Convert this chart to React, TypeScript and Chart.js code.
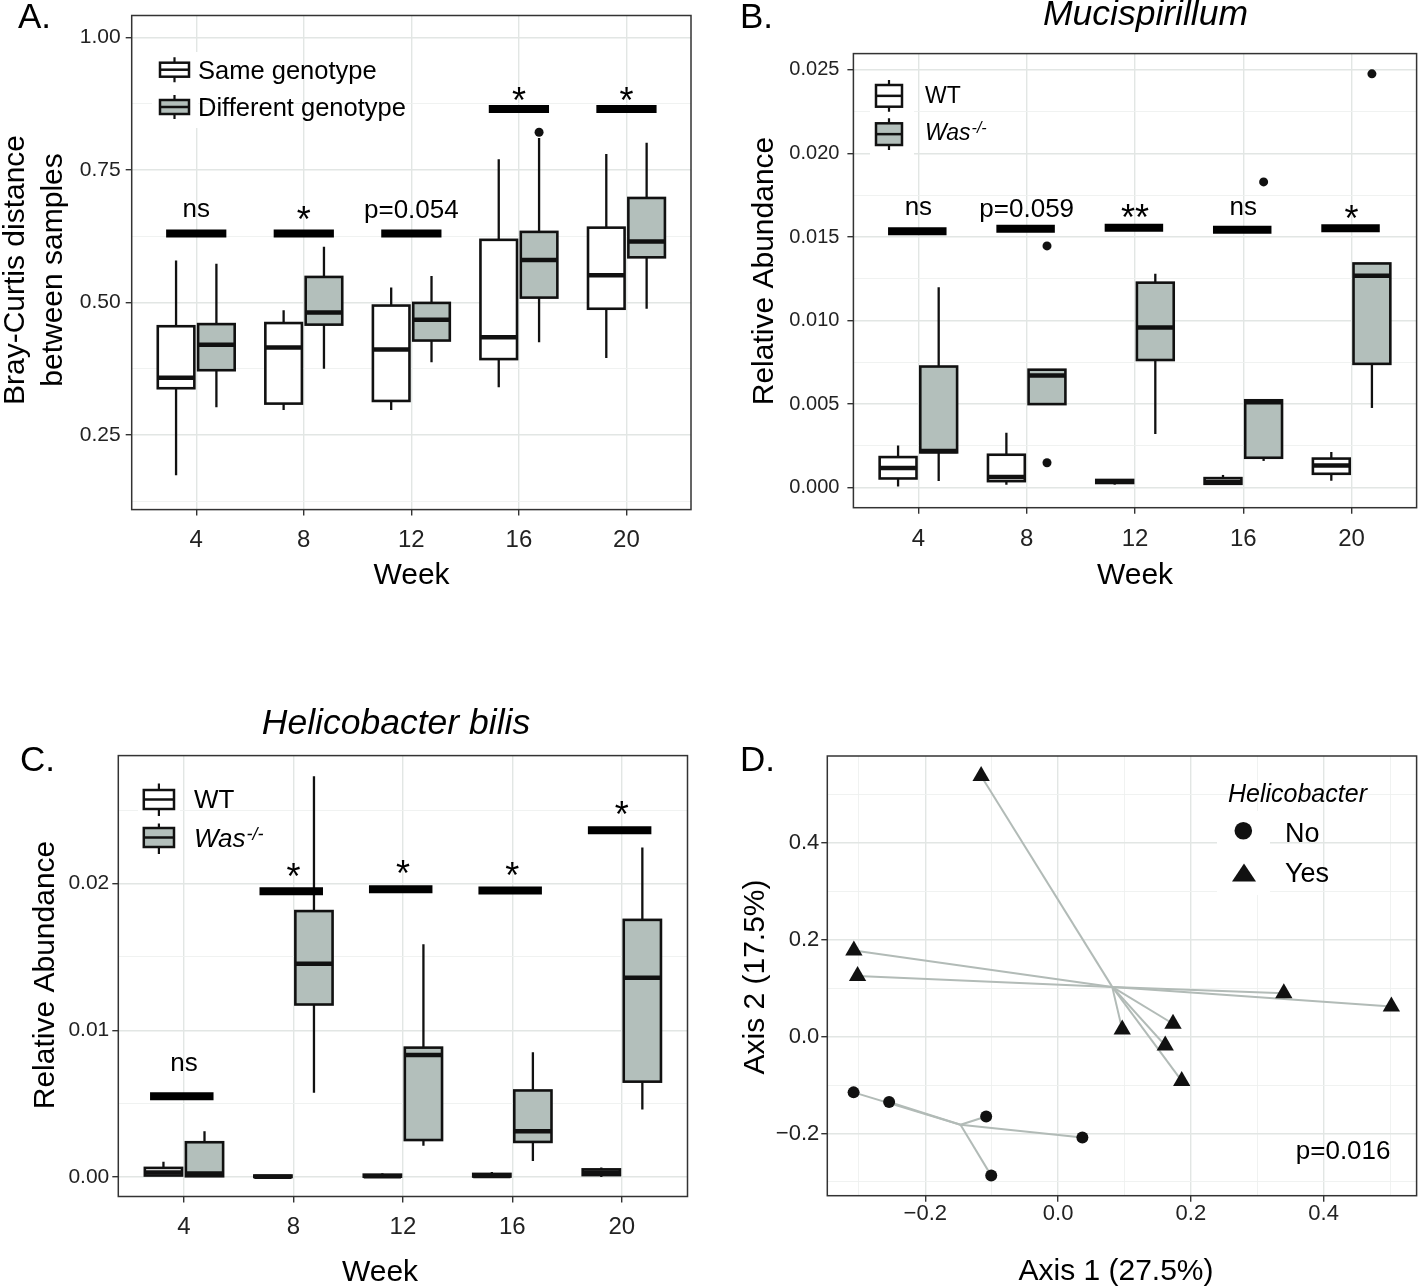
import React, { useEffect, useRef } from 'react';
import { Chart, registerables } from 'chart.js';

Chart.register(...registerables);

const FONT = "'Liberation Sans', Arial, Helvetica, sans-serif";
Chart.defaults.font.family = FONT;

const PAGE_W = 1418;
const PAGE_H = 1288;

// ---------------- shared categories ----------------
const WEEKS = ['4', '8', '12', '16', '20'];
const WEEK_POS = [1, 2, 3, 4, 5];

// box statistics: [lower whisker, Q1, median, Q3, upper whisker]

// ---------------- Panel A ----------------
const A_SAME = [
  [0.174, 0.338, 0.358, 0.455, 0.579],
  [0.297, 0.309, 0.415, 0.461, 0.485],
  [0.297, 0.314, 0.411, 0.494, 0.528],
  [0.340, 0.393, 0.434, 0.618, 0.770],
  [0.395, 0.488, 0.551, 0.641, 0.780],
];
const A_DIFF = [
  [0.302, 0.372, 0.420, 0.459, 0.573],
  [0.375, 0.458, 0.481, 0.548, 0.605],
  [0.387, 0.428, 0.467, 0.499, 0.550],
  [0.425, 0.509, 0.580, 0.633, 0.810],
  [0.488, 0.585, 0.615, 0.697, 0.801],
];
const A_DIFF_OUT_WEEKS = ['16'];
const A_DIFF_OUT_VALUES = [0.821];
const A_SIG_TEXT = ['ns', '*', 'p=0.054', '*', '*'];
const A_SIG_BAR = [0.630, 0.630, 0.630, 0.865, 0.865];
const A_SIG_TEXT_AT = [0.673, 0.673, 0.677, 0.897, 0.897];
const A_Y_TICKS = [0.125, 0.25, 0.375, 0.5, 0.625, 0.75, 0.875, 1.0];
const A_Y_MAJOR = [0.25, 0.5, 0.75, 1.0];

// ---------------- Panel B ----------------
const B_WT = [
  [0.00007, 0.00055, 0.00117, 0.00183, 0.00252],
  [0.00018, 0.00039, 0.00064, 0.00197, 0.00328],
  [0.00018, 0.00028, 0.00037, 0.00046, 0.00046],
  [0.00023, 0.00023, 0.00034, 0.00057, 0.00076],
  [0.00041, 0.00083, 0.00133, 0.00174, 0.00213],
];
const B_WAS = [
  [0.0004, 0.00211, 0.0022, 0.00725, 0.0120],
  [0.0050, 0.0050, 0.00672, 0.00706, 0.00706],
  [0.00321, 0.00764, 0.00959, 0.01227, 0.0128],
  [0.0016, 0.00179, 0.00511, 0.00523, 0.00523],
  [0.00477, 0.00741, 0.01268, 0.01342, 0.01342],
];
const B_WAS_OUT_WEEKS = ['8', '8', '16', '20'];
const B_WAS_OUT_VALUES = [0.01447, 0.00149, 0.0183, 0.02477];
const B_SIG_TEXT = ['ns', 'p=0.059', '**', 'ns', '*'];
const B_SIG_BAR = [0.01534, 0.0155, 0.01555, 0.01544, 0.01553];
const B_SIG_TEXT_AT = [0.01675, 0.01675, 0.01669, 0.01675, 0.01662];
const B_Y_TICKS = [0, 0.0025, 0.005, 0.0075, 0.01, 0.0125, 0.015, 0.0175, 0.02, 0.0225, 0.025];
const B_Y_MAJOR = [0, 0.005, 0.01, 0.015, 0.02, 0.025];

// ---------------- Panel C ----------------
const C_WT = [
  [0.0001, 0.0001, 0.00031, 0.00062, 0.00104],
  [0, 0, 0.00002, 0.0001, 0.0001],
  [0, 0.00002, 0.00005, 0.00016, 0.00026],
  [0.00002, 0.00003, 0.00007, 0.00021, 0.00034],
  [0, 0.00013, 0.00031, 0.00052, 0.00065],
];
const C_WAS = [
  [0.00005, 0.00005, 0.00023, 0.00237, 0.00312],
  [0.00575, 0.01176, 0.01454, 0.01813, 0.02733],
  [0.00213, 0.00252, 0.00832, 0.00882, 0.01586],
  [0.00109, 0.00239, 0.00312, 0.0059, 0.0085],
  [0.0046, 0.0065, 0.01358, 0.01753, 0.02247],
];
const C_SIG_TEXT = ['ns', '*', '*', '*', '*'];
const C_SIG_BAR = [0.00551, 0.01948, 0.01961, 0.01953, 0.02364];
const C_SIG_TEXT_AT = [0.00768, 0.02107, 0.02124, 0.02115, 0.0253];
const C_Y_TICKS = [0, 0.005, 0.01, 0.015, 0.02, 0.025];
const C_Y_MAJOR = [0, 0.01, 0.02];

// ---------------- Panel D (PCoA) ----------------
const D_NO_X = [-0.308, -0.2545, -0.1083, 0.0366, -0.1007];
const D_NO_Y = [-0.115, -0.1348, -0.1648, -0.2081, -0.287];
const D_YES_X = [-0.1159, -0.3076, -0.302, 0.340, 0.502, 0.0966, 0.1731, 0.1614, 0.1862];
const D_YES_Y = [0.5385, 0.1782, 0.1253, 0.0899, 0.0623, 0.015, 0.0268, -0.0181, -0.0914];
const D_TICKS = [-0.3, -0.2, -0.1, 0, 0.1, 0.2, 0.3, 0.4, 0.5];
const D_MAJOR = [-0.2, 0, 0.2, 0.4];

// ---------------- styles ----------------
const MAJOR_GRID = '#e2e6e4';
const MINOR_GRID = '#eef0ef';
const BOX_GRAY = '#b3bfbb';
const SPIDER = '#b2bbb7';
const INK = '#111';
const BOX_OFFSET = 0.1875;
const BOX_HALF = 0.17;
const PANEL_LABEL = 35;
const TITLE_SIZE = 35.5;

type Area = { l: number; t: number; r: number; b: number };

const isIn = (list: number[], v: number) => list.some((m) => Math.abs(m - v) < 1e-9);

function layoutFor(a: Area, yw: number, xh: number) {
  return {
    autoPadding: false,
    padding: { left: a.l - yw, top: a.t, right: PAGE_W - a.r, bottom: PAGE_H - a.b - xh },
  };
}

function makeAxis(p: {
  min: number; max: number; ticks: number[]; major: number[]; fmt: (v: number) => string;
  font: number; pad: number; horizontal: boolean; size: number;
}) {
  return {
    type: 'linear',
    position: p.horizontal ? 'bottom' : 'left',
    min: p.min,
    max: p.max,
    afterBuildTicks: (s: any) => { s.ticks = p.ticks.map((v) => ({ value: v })); },
    afterFit: (s: any) => { if (p.horizontal) s.height = p.size; else s.width = p.size; },
    border: { display: false },
    grid: {
      drawTicks: true,
      tickLength: 6,
      tickWidth: 1.4,
      color: (c: any) => (isIn(p.major, c.tick ? c.tick.value : NaN) ? MAJOR_GRID : MINOR_GRID),
      lineWidth: (c: any) => (isIn(p.major, c.tick ? c.tick.value : NaN) ? 1.4 : 0.9),
      tickColor: (c: any) => (isIn(p.major, c.tick ? c.tick.value : NaN) ? '#333' : 'rgba(0,0,0,0)'),
    },
    ticks: {
      autoSkip: false, maxRotation: 0, minRotation: 0, padding: p.pad, color: '#222',
      font: { family: FONT, size: p.font, lineHeight: 1 },
      callback: (v: any) => (isIn(p.major, Number(v)) ? p.fmt(Number(v)) : ''),
    },
  };
}

// ---------------- drawing helpers ----------------
function txt(ctx: CanvasRenderingContext2D, s: string, x: number, y: number, size: number,
  align: CanvasTextAlign = 'left', italic = false) {
  ctx.save();
  ctx.font = `${italic ? 'italic ' : ''}${size}px ${FONT}`;
  ctx.fillStyle = '#000';
  ctx.textAlign = align;
  ctx.textBaseline = 'alphabetic';
  ctx.fillText(s, x, y);
  ctx.restore();
}

function vtxt(ctx: CanvasRenderingContext2D, s: string, baseX: number, cy: number, size: number) {
  ctx.save();
  ctx.translate(baseX, cy);
  ctx.rotate(-Math.PI / 2);
  ctx.font = `${size}px ${FONT}`;
  ctx.fillStyle = '#000';
  ctx.textAlign = 'center';
  ctx.textBaseline = 'alphabetic';
  ctx.fillText(s, 0, 0);
  ctx.restore();
}

function wasLabel(ctx: CanvasRenderingContext2D, x: number, base: number, size: number) {
  ctx.save();
  ctx.font = `italic ${size}px ${FONT}`;
  ctx.fillStyle = '#000';
  ctx.textBaseline = 'alphabetic';
  ctx.textAlign = 'left';
  ctx.fillText('Was', x, base);
  const w = ctx.measureText('Was').width;
  ctx.font = `italic ${Math.round(size * 0.68)}px ${FONT}`;
  ctx.fillText('-/-', x + w + 1, base - 7);
  ctx.restore();
}

function keyBg(ctx: CanvasRenderingContext2D, x: number, y: number, w: number, h: number) {
  ctx.save();
  ctx.fillStyle = '#fff';
  ctx.fillRect(x, y, w, h);
  ctx.restore();
}

function keyBox(ctx: CanvasRenderingContext2D, x0: number, x1: number, bt: number, bb: number,
  st: number, sb: number, fill: string) {
  const cx = (x0 + x1) / 2;
  const mid = (bt + bb) / 2;
  ctx.save();
  ctx.strokeStyle = INK;
  ctx.lineWidth = 2.2;
  ctx.beginPath();
  ctx.moveTo(cx, st); ctx.lineTo(cx, bt);
  ctx.moveTo(cx, bb); ctx.lineTo(cx, sb);
  ctx.stroke();
  ctx.fillStyle = fill;
  ctx.fillRect(x0, bt, x1 - x0, bb - bt);
  ctx.lineWidth = 2.5;
  ctx.strokeRect(x0, bt, x1 - x0, bb - bt);
  ctx.beginPath();
  ctx.moveTo(x0, mid); ctx.lineTo(x1, mid);
  ctx.stroke();
  ctx.restore();
}

function drawBox(ctx: CanvasRenderingContext2D, xs: any, ys: any, center: number, s: number[], fill: string) {
  const [lo, q1, med, q3, hi] = s;
  const cx = xs.getPixelForValue(center);
  const x0 = xs.getPixelForValue(center - BOX_HALF);
  const x1 = xs.getPixelForValue(center + BOX_HALF);
  const pLo = ys.getPixelForValue(lo);
  const p1 = ys.getPixelForValue(q1);
  const pM = ys.getPixelForValue(med);
  const p3 = ys.getPixelForValue(q3);
  const pHi = ys.getPixelForValue(hi);
  ctx.save();
  ctx.strokeStyle = INK;
  ctx.lineCap = 'butt';
  ctx.lineWidth = 2.3;
  ctx.beginPath();
  ctx.moveTo(cx, pHi); ctx.lineTo(cx, p3);
  ctx.moveTo(cx, p1); ctx.lineTo(cx, pLo);
  ctx.stroke();
  ctx.fillStyle = fill;
  ctx.fillRect(x0, p3, x1 - x0, p1 - p3);
  ctx.lineWidth = 2.6;
  ctx.strokeRect(x0, p3, x1 - x0, p1 - p3);
  ctx.lineWidth = 4.5;
  ctx.beginPath();
  ctx.moveTo(x0, pM); ctx.lineTo(x1, pM);
  ctx.stroke();
  ctx.restore();
}

function drawFrame(chart: any) {
  const { ctx, chartArea: a } = chart;
  ctx.save();
  ctx.strokeStyle = '#333';
  ctx.lineWidth = 1.5;
  ctx.strokeRect(a.left, a.top, a.right - a.left, a.bottom - a.top);
  ctx.restore();
}

type Group = { stats: number[][]; fill: string; offset: number; outWeeks: string[]; outValues: number[] };

function boxPanel(p: {
  area: Area; yMin: number; yMax: number; yTicks: number[]; yMajor: number[];
  yFmt: (v: number) => string; yFont: number; yPad: number; xPad: number; groups: Group[];
  sigText: string[]; sigBar: number[]; sigTextAt: number[]; sigSpan: [number, number];
  decorate: (ctx: CanvasRenderingContext2D) => void;
}) {
  const YW = 100;
  const XH = 40;
  return {
    type: 'scatter',
    data: {
      datasets: p.groups.map((g) => ({
        data: g.outWeeks.map((w, i) => ({ x: WEEK_POS[WEEKS.indexOf(w)] + g.offset, y: g.outValues[i] })),
        pointRadius: 4.5,
        pointHoverRadius: 4.5,
        backgroundColor: INK,
        borderWidth: 0,
      })),
    },
    options: {
      animation: false,
      responsive: false,
      devicePixelRatio: 1,
      events: [],
      layout: layoutFor(p.area, YW, XH),
      plugins: { legend: { display: false }, tooltip: { enabled: false } },
      scales: {
        x: makeAxis({
          min: 0.4, max: 5.6, ticks: WEEK_POS, major: WEEK_POS,
          fmt: (v) => WEEKS[WEEK_POS.indexOf(Math.round(v))], font: 24, pad: p.xPad, horizontal: true, size: XH,
        }),
        y: makeAxis({
          min: p.yMin, max: p.yMax, ticks: p.yTicks, major: p.yMajor, fmt: p.yFmt,
          font: p.yFont, pad: p.yPad, horizontal: false, size: YW,
        }),
      },
    },
    plugins: [{
      id: 'boxes',
      beforeDatasetsDraw(chart: any) {
        const { ctx, scales: { x, y } } = chart;
        p.groups.forEach((g) => g.stats.forEach((s, i) => drawBox(ctx, x, y, WEEK_POS[i] + g.offset, s, g.fill)));
      },
      afterDatasetsDraw(chart: any) {
        const { ctx, scales: { x, y } } = chart;
        ctx.save();
        ctx.strokeStyle = '#000';
        ctx.lineWidth = 8;
        ctx.lineCap = 'butt';
        p.sigBar.forEach((v, i) => {
          const py = y.getPixelForValue(v);
          ctx.beginPath();
          ctx.moveTo(x.getPixelForValue(WEEK_POS[i] + p.sigSpan[0]), py);
          ctx.lineTo(x.getPixelForValue(WEEK_POS[i] + p.sigSpan[1]), py);
          ctx.stroke();
        });
        ctx.restore();
        p.sigText.forEach((s, i) => {
          const py = y.getPixelForValue(p.sigTextAt[i]);
          const star = /^\*+$/.test(s);
          const size = star ? 36 : 26;
          const k = star ? 0.58 : /^[a-z]+$/.test(s) ? 0.26 : 0.358;
          txt(ctx, s, x.getPixelForValue(WEEK_POS[i]), py + k * size, size, 'center');
        });
      },
      afterDraw(chart: any) {
        drawFrame(chart);
        p.decorate(chart.ctx);
      },
    }],
  };
}

const panelA = () => boxPanel({
  area: { l: 131.7, t: 15.3, r: 691, b: 509.6 },
  yMin: 0.109, yMax: 1.0413, yTicks: A_Y_TICKS, yMajor: A_Y_MAJOR, yFmt: (v) => v.toFixed(2),
  yFont: 21, yPad: 5, xPad: 13,
  groups: [
    { stats: A_SAME, fill: '#fff', offset: -BOX_OFFSET, outWeeks: [], outValues: [] },
    { stats: A_DIFF, fill: BOX_GRAY, offset: BOX_OFFSET, outWeeks: A_DIFF_OUT_WEEKS, outValues: A_DIFF_OUT_VALUES },
  ],
  sigText: A_SIG_TEXT, sigBar: A_SIG_BAR, sigTextAt: A_SIG_TEXT_AT, sigSpan: [-0.28, 0.28],
  decorate: (ctx) => {
    txt(ctx, 'A.', 18, 28, PANEL_LABEL);
    vtxt(ctx, 'Bray-Curtis distance', 23.5, 270, 30);
    vtxt(ctx, 'between samples', 61.5, 270, 30);
    txt(ctx, 'Week', 411.5, 584, 30, 'center');
    keyBg(ctx, 152, 52, 46, 76);
    keyBox(ctx, 160, 189, 62.7, 76.7, 57.2, 82.2, '#fff');
    keyBox(ctx, 160, 189, 100, 114, 95, 119, BOX_GRAY);
    txt(ctx, 'Same genotype', 198, 79, 25.5);
    txt(ctx, 'Different genotype', 198, 116, 25.5);
  },
});

const panelB = () => boxPanel({
  area: { l: 853.4, t: 53.6, r: 1416.6, b: 507.7 },
  yMin: -0.0012, yMax: 0.02598, yTicks: B_Y_TICKS, yMajor: B_Y_MAJOR, yFmt: (v) => v.toFixed(3),
  yFont: 20, yPad: 8, xPad: 13.6,
  groups: [
    { stats: B_WT, fill: '#fff', offset: -BOX_OFFSET, outWeeks: [], outValues: [] },
    { stats: B_WAS, fill: BOX_GRAY, offset: BOX_OFFSET, outWeeks: B_WAS_OUT_WEEKS, outValues: B_WAS_OUT_VALUES },
  ],
  sigText: B_SIG_TEXT, sigBar: B_SIG_BAR, sigTextAt: B_SIG_TEXT_AT, sigSpan: [-0.28, 0.26],
  decorate: (ctx) => {
    txt(ctx, 'B.', 740, 28, PANEL_LABEL);
    txt(ctx, 'Mucispirillum', 1145.5, 25, TITLE_SIZE, 'center', true);
    vtxt(ctx, 'Relative Abundance', 773, 271, 30);
    txt(ctx, 'Week', 1135, 584, 30, 'center');
    keyBg(ctx, 870, 75, 44, 80);
    keyBox(ctx, 876, 902, 85, 106.7, 80, 111.7, '#fff');
    keyBox(ctx, 876, 902, 123.3, 145, 118.3, 150, BOX_GRAY);
    txt(ctx, 'WT', 925, 103.3, 23);
    wasLabel(ctx, 925, 140, 23);
  },
});

const panelC = () => boxPanel({
  area: { l: 118.3, t: 755.6, r: 687.5, b: 1196.5 },
  yMin: -0.00133, yMax: 0.02873, yTicks: C_Y_TICKS, yMajor: C_Y_MAJOR, yFmt: (v) => v.toFixed(2),
  yFont: 21, yPad: 3, xPad: 13,
  groups: [
    { stats: C_WT, fill: '#fff', offset: -BOX_OFFSET, outWeeks: [], outValues: [] },
    { stats: C_WAS, fill: BOX_GRAY, offset: BOX_OFFSET, outWeeks: [], outValues: [] },
  ],
  sigText: C_SIG_TEXT, sigBar: C_SIG_BAR, sigTextAt: C_SIG_TEXT_AT, sigSpan: [-0.31, 0.27],
  decorate: (ctx) => {
    txt(ctx, 'C.', 20, 771, PANEL_LABEL);
    txt(ctx, 'Helicobacter bilis', 396, 734, TITLE_SIZE, 'center', true);
    vtxt(ctx, 'Relative Abundance', 53.6, 975, 30);
    txt(ctx, 'Week', 380, 1281, 30, 'center');
    keyBg(ctx, 138, 778, 42, 82);
    keyBox(ctx, 143.8, 174, 790, 809, 783.4, 815.9, '#fff');
    keyBox(ctx, 143.8, 174, 828, 847, 823.5, 854, BOX_GRAY);
    txt(ctx, 'WT', 194, 808, 26);
    wasLabel(ctx, 194, 847, 26);
  },
});

const mean = (a: number[]) => a.reduce((s, v) => s + v, 0) / a.length;

const panelD = () => {
  const cNo = { x: mean(D_NO_X), y: mean(D_NO_Y) };
  const cYes = { x: mean(D_YES_X), y: mean(D_YES_Y) };
  const seg = (c: { x: number; y: number }, x: number, y: number) => ({
    data: [c, { x, y }],
    showLine: true,
    borderColor: SPIDER,
    borderWidth: 2,
    pointRadius: 0,
    pointHoverRadius: 0,
    order: 2,
  });
  const fmt = (v: number) => v.toFixed(1).replace('-', '\u2212');
  const YW = 100;
  const XH = 40;
  const area: Area = { l: 827.3, t: 756, r: 1416.6, b: 1195.7 };
  return {
    type: 'scatter',
    data: {
      datasets: [
        {
          data: D_NO_X.map((x, i) => ({ x, y: D_NO_Y[i] })),
          pointStyle: 'circle', pointRadius: 6, pointHoverRadius: 6,
          backgroundColor: INK, borderWidth: 0, order: 0,
        },
        {
          data: D_YES_X.map((x, i) => ({ x, y: D_YES_Y[i] })),
          pointStyle: 'triangle', pointRadius: 10, pointHoverRadius: 10,
          backgroundColor: INK, borderWidth: 0, order: 0,
        },
        ...D_NO_X.map((x, i) => seg(cNo, x, D_NO_Y[i])),
        ...D_YES_X.map((x, i) => seg(cYes, x, D_YES_Y[i])),
      ],
    },
    options: {
      animation: false,
      responsive: false,
      devicePixelRatio: 1,
      events: [],
      layout: layoutFor(area, YW, XH),
      plugins: { legend: { display: false }, tooltip: { enabled: false } },
      scales: {
        x: makeAxis({ min: -0.3476, max: 0.540, ticks: D_TICKS, major: D_MAJOR, fmt, font: 22, pad: 1, horizontal: true, size: XH }),
        y: makeAxis({ min: -0.3285, max: 0.58, ticks: D_TICKS, major: D_MAJOR, fmt, font: 22, pad: 2, horizontal: false, size: YW }),
      },
    },
    plugins: [{
      id: 'pcoaDecor',
      afterDraw(chart: any) {
        const ctx = chart.ctx as CanvasRenderingContext2D;
        drawFrame(chart);
        txt(ctx, 'D.', 740, 771, PANEL_LABEL);
        txt(ctx, 'Axis 1 (27.5%)', 1116, 1280, 30, 'center');
        vtxt(ctx, 'Axis 2 (17.5%)', 764, 977, 30);
        txt(ctx, 'p=0.016', 1390.5, 1159, 26, 'right');
        keyBg(ctx, 1217, 811, 53, 84);
        txt(ctx, 'Helicobacter', 1228, 801.7, 25, 'left', true);
        ctx.save();
        ctx.fillStyle = INK;
        ctx.beginPath();
        ctx.arc(1243.3, 830.7, 8.8, 0, Math.PI * 2);
        ctx.fill();
        ctx.beginPath();
        ctx.moveTo(1244, 863.5);
        ctx.lineTo(1256, 881.5);
        ctx.lineTo(1232, 881.5);
        ctx.closePath();
        ctx.fill();
        ctx.restore();
        txt(ctx, 'No', 1285, 841.7, 27);
        txt(ctx, 'Yes', 1285, 881.7, 27);
      },
    }],
  };
};

function ChartCanvas({ make }: { make: () => any }) {
  const ref = useRef<HTMLCanvasElement | null>(null);
  useEffect(() => {
    if (!ref.current) return;
    const chart = new Chart(ref.current, make());
    return () => chart.destroy();
  }, [make]);
  return (
    <canvas
      ref={ref}
      width={PAGE_W}
      height={PAGE_H}
      style={{ position: 'absolute', left: 0, top: 0, width: PAGE_W, height: PAGE_H }}
    />
  );
}

export default function App() {
  return (
    <div style={{ position: 'absolute', left: 0, top: 0, width: PAGE_W, height: PAGE_H, background: '#fff', overflow: 'hidden' }}>
      <ChartCanvas make={panelA} />
      <ChartCanvas make={panelB} />
      <ChartCanvas make={panelC} />
      <ChartCanvas make={panelD} />
    </div>
  );
}
